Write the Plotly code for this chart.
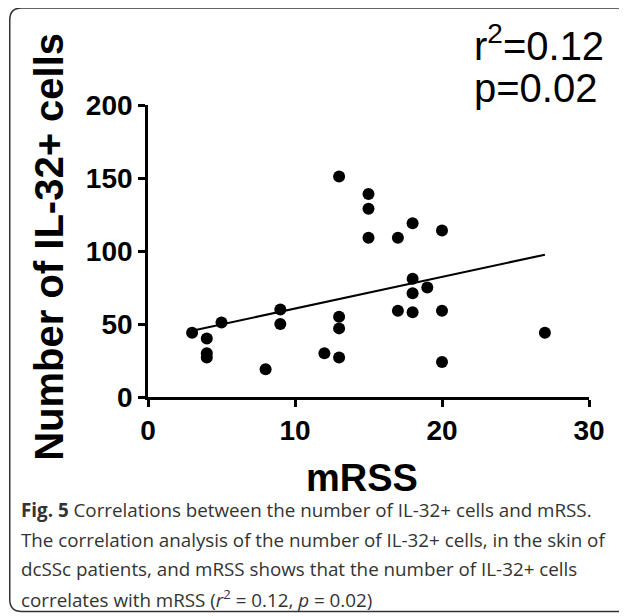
import plotly.graph_objects as go

# ---- data ----
mrss = [3, 4, 4, 4, 5, 8, 9, 9, 12, 13, 13, 13, 13, 15, 15, 15, 17, 17,
        18, 18, 18, 18, 19, 20, 20, 20, 27]
il32_cells = [44, 40, 30, 27, 51, 19, 60, 50, 30, 151, 55, 47, 27, 139, 129,
              109, 109, 59, 119, 81, 71, 58, 75, 114, 59, 24, 44]
fit_x = [3, 27]
fit_y = [45.4, 97.5]
x_ticks = [0, 10, 20, 30]
y_ticks = [0, 50, 100, 150, 200]
r2_text = "r<sup>2</sup>=0.12"
p_text = "p=0.02"
caption_lines = [
    "<b>Fig. 5</b> Correlations between the number of IL-32+ cells and mRSS.",
    "The correlation analysis of the number of IL-32+ cells, in the skin of",
    "dcSSc patients, and mRSS shows that the number of IL-32+ cells",
    "correlates with mRSS (<i>r</i><sup>2</sup> = 0.12, <i>p</i> = 0.02)",
]

# the page body adds an 8px offset, so the figure is 8px smaller than the window
OFF = 8
W, H = 627 - OFF, 616 - OFF
ML, MT = 147.5 - OFF, 105 - OFF
MR = W - (589.3 - OFF)
MB = H - (396.7 - OFF)
PW, PH = W - ML - MR, H - MT - MB


def px(x):
    """page pixel x -> paper coordinate"""
    return (x - OFF - ML) / PW


def py(y):
    """page pixel y -> paper coordinate"""
    return (H - MB - (y - OFF)) / PH


fig = go.Figure()
fig.add_trace(go.Scatter(x=fit_x, y=fit_y, mode="lines",
                         line=dict(color="black", width=2), hoverinfo="skip"))
fig.add_trace(go.Scatter(x=mrss, y=il32_cells, mode="markers",
                         marker=dict(color="black", size=12)))

axis_common = dict(showline=True, linecolor="black", linewidth=2.7,
                   ticks="outside", ticklen=7, tickwidth=2.5, tickcolor="black",
                   showgrid=False, zeroline=False,
                   tickfont=dict(family="Liberation Sans, Arial", size=28,
                                 color="black", weight="bold"))
fig.update_xaxes(range=[0, 30], tickvals=x_ticks, **axis_common)
fig.update_yaxes(range=[0, 200], tickvals=y_ticks, **axis_common)

big = dict(family="Liberation Sans, Arial", size=40, color="black")
ann = []
ann.append(dict(text="<b>Number of IL-32+ cells</b>", textangle=-90,
                xref="paper", yref="paper", x=px(48), y=py(247),
                xanchor="center", yanchor="middle", showarrow=False, font=big))
ann.append(dict(text="<b>mRSS</b>", xref="paper", yref="paper",
                x=px(362), y=py(478), xanchor="center", yanchor="middle",
                showarrow=False,
                font=dict(family="Liberation Sans, Arial", size=38, color="black")))
ann.append(dict(text=r2_text, xref="paper", yref="paper",
                x=px(472), y=py(43), xanchor="left", yanchor="middle",
                showarrow=False, font=big))
ann.append(dict(text=p_text, xref="paper", yref="paper",
                x=px(472), y=py(88), xanchor="left", yanchor="middle",
                showarrow=False, font=big))
for i, line in enumerate(caption_lines):
    ann.append(dict(text=line, xref="paper", yref="paper",
                    x=px(18), y=py(510 + i * 29.5), xanchor="left", yanchor="middle",
                    align="left", showarrow=False,
                    font=dict(family="Open Sans", size=18.8, color="#333333")))

# rounded frame around the figure
x0, x1, y0, y1, r = 9, 650, 8, 611, 12
path = (f"M {px(x0 + r)},{py(y0)} L {px(x1 - r)},{py(y0)} "
        f"Q {px(x1)},{py(y0)} {px(x1)},{py(y0 + r)} "
        f"L {px(x1)},{py(y1 - r)} Q {px(x1)},{py(y1)} {px(x1 - r)},{py(y1)} "
        f"L {px(x0 + r)},{py(y1)} Q {px(x0)},{py(y1)} {px(x0)},{py(y1 - r)} "
        f"L {px(x0)},{py(y0 + r)} Q {px(x0)},{py(y0)} {px(x0 + r)},{py(y0)} Z")

fig.update_layout(
    width=W, height=H, showlegend=False,
    margin=dict(l=ML, r=MR, t=MT, b=MB, pad=0),
    plot_bgcolor="white", paper_bgcolor="white",
    annotations=ann,
    shapes=[dict(type="path", path=path, xref="paper", yref="paper",
                 line=dict(color="#333333", width=1.5), layer="below")],
)

fig.write_html("out.html")
